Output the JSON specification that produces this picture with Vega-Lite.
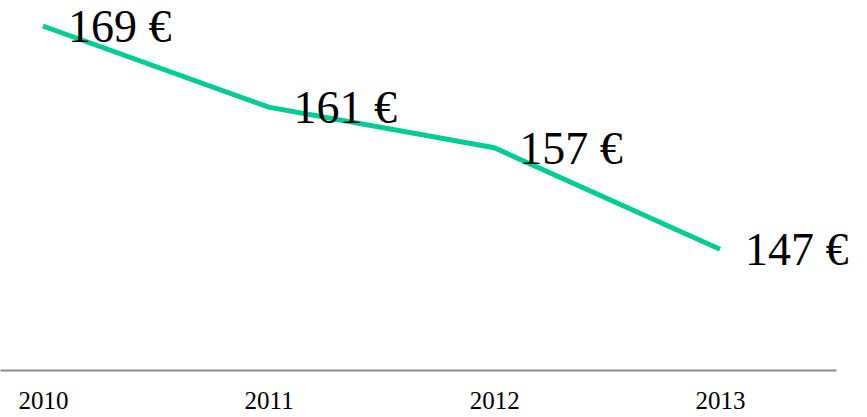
{
  "$schema": "https://vega.github.io/schema/vega-lite/v6.json",
  "width": 836,
  "height": 370,
  "padding": {"left": 0, "top": 0, "right": 31, "bottom": 47},
  "autosize": {"type": "none"},
  "background": "white",
  "config": {"view": {"stroke": null}, "font": "Liberation Serif"},
  "data": {"values": [
    {"year": 2010, "price": 169, "label": "169 €"},
    {"year": 2011, "price": 161, "label": "161 €"},
    {"year": 2012, "price": 157, "label": "157 €"},
    {"year": 2013, "price": 147, "label": "147 €"}
  ]},
  "encoding": {
    "x": {"field": "year", "type": "quantitative",
      "scale": {"domain": [2009.81, 2013.514], "nice": false, "zero": false},
      "axis": {"values": [2010, 2011, 2012, 2013], "format": "d", "title": null, "grid": false, "ticks": false,
        "labelFont": "Liberation Serif", "labelFontSize": 25, "labelColor": "#000000", "labelPadding": 18,
        "labelFlush": false, "domainColor": "#8c8c8c", "domainWidth": 2}},
    "y": {"field": "price", "type": "quantitative",
      "scale": {"domain": [135.1, 171.56], "nice": false, "zero": false},
      "axis": null}
  },
  "layer": [
    {"mark": {"type": "line", "color": "#00CC96", "strokeWidth": 5}},
    {"mark": {"type": "text", "align": "left", "baseline": "middle", "dx": 25, "dy": 2, "fontSize": 46, "font": "Liberation Serif", "color": "#000000"},
     "encoding": {"text": {"field": "label"}}}
  ]
}
